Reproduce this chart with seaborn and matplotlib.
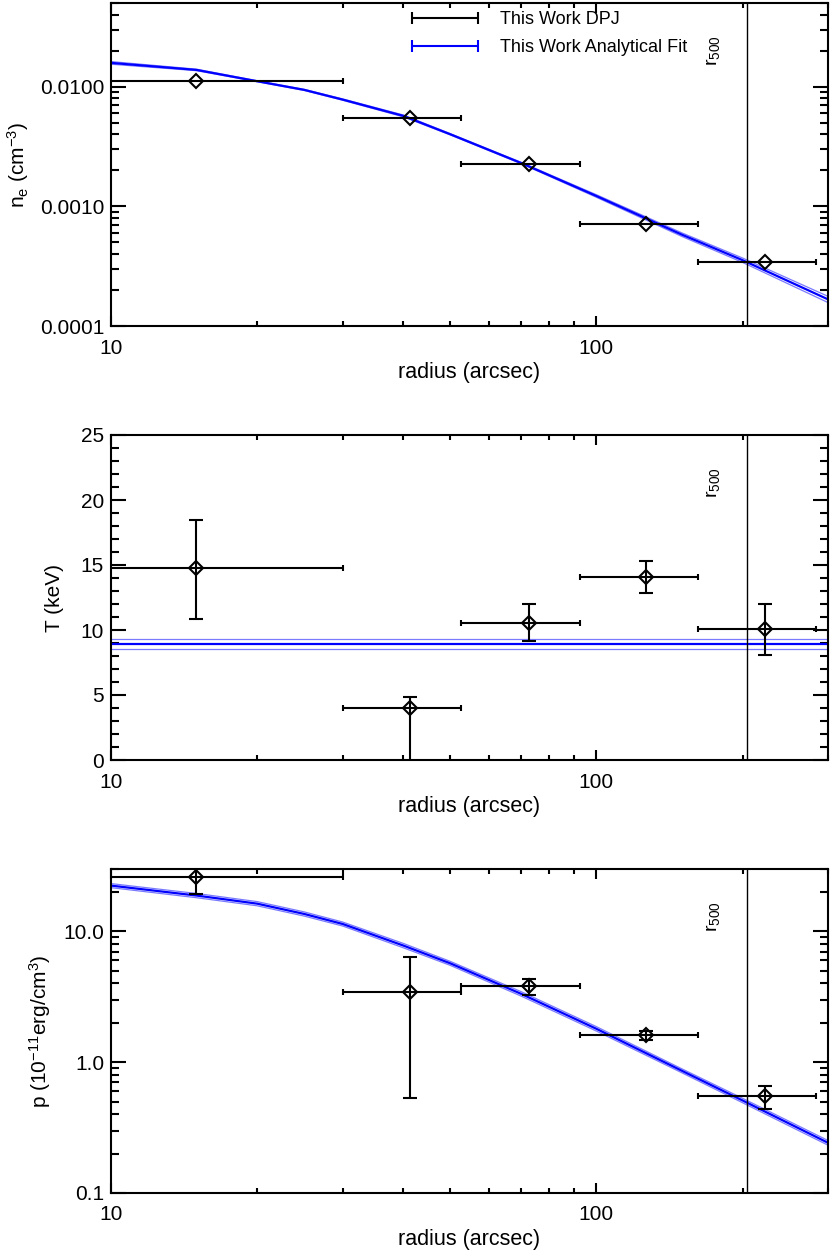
import numpy as np
import matplotlib
matplotlib.use("Agg")
import matplotlib.pyplot as plt
import seaborn as sns
from matplotlib.lines import Line2D
from matplotlib.ticker import (FixedLocator, FormatStrFormatter, MultipleLocator,
                               NullFormatter, LogLocator)

# ---- data ----
# radial bins (arcsec)
r_mid = np.array([15.0, 41.3, 72.6, 126.7, 222.8])
r_lo = np.array([0.0, 30.0, 52.7, 92.4, 161.8])
r_hi = np.array([30.0, 52.7, 92.4, 161.8, 284.0])
r500 = 204.0

# electron density (cm^-3)
ne = np.array([0.0112, 0.00552, 0.00227, 0.000718, 0.000344])

# temperature (keV)
T = np.array([14.8, 3.97, 10.56, 14.1, 10.05])
T_lo = np.array([10.82, -0.5, 9.15, 12.82, 8.08])
T_hi = np.array([18.46, 4.87, 12.0, 15.33, 12.0])

# pressure (1e-11 erg/cm^3)
p = np.array([26.0, 3.46, 3.80, 1.61, 0.55])
p_lo = np.array([19.4, 0.53, 3.29, 1.47, 0.44])
p_hi = np.array([33.0, 6.37, 4.35, 1.74, 0.656])

# analytical fit, sampled
r_fit = np.array([10, 15, 20, 25, 30, 40, 50, 70, 100, 150, 200, 300])
ne_fit = np.array([0.0158, 0.0138, 0.0111, 0.0094, 0.0078, 0.0057, 0.0040, 0.0023, 0.00122, 0.00058, 0.000355, 0.000167])
ne_fit_lo = np.array([0.0154, 0.0136, 0.0110, 0.0093, 0.0077, 0.0056, 0.00395, 0.00227, 0.00119, 0.00056, 0.00034, 0.000157])
ne_fit_hi = np.array([0.0162, 0.0140, 0.0112, 0.0095, 0.0079, 0.0058, 0.00405, 0.00233, 0.00125, 0.00060, 0.00037, 0.000177])
T_fit, T_fit_lo, T_fit_hi = 8.90, 8.54, 9.28
p_fit = np.array([22.4, 18.8, 16.3, 13.6, 11.4, 7.8, 5.7, 3.33, 1.80, 0.86, 0.51, 0.242])
p_fit_lo = np.array([21.6, 18.1, 15.7, 13.1, 11.0, 7.5, 5.5, 3.2, 1.73, 0.83, 0.49, 0.232])
p_fit_hi = np.array([23.2, 19.5, 16.9, 14.1, 11.8, 8.1, 5.9, 3.46, 1.87, 0.89, 0.53, 0.252])

BLUE = "#0000ff"
LIGHT = "#7a7aff"

sns.set_style("ticks")
plt.rcParams.update({
    "font.family": ["Liberation Sans", "DejaVu Sans"],
    "mathtext.fontset": "custom",
    "mathtext.rm": "Liberation Sans",
    "mathtext.it": "Liberation Sans:italic",
    "mathtext.bf": "Liberation Sans:bold",
    "axes.linewidth": 1.5,
    "axes.edgecolor": "black",
    "text.color": "black",
    "axes.labelcolor": "black",
    "xtick.color": "black",
    "ytick.color": "black",
})

fig = plt.figure(figsize=(8.3, 12.52), dpi=100)
W = 830.0
H = 1252.0
left, width = 111 / W, 717 / W
panels = [(3, 326), (435, 760), (869, 1193)]
axes = [fig.add_axes([left, 1 - b / H, width, (b - t) / H]) for t, b in panels]


def style_axis(ax):
    ax.set_xscale("log")
    ax.set_xlim(10, 300)
    ax.xaxis.set_major_locator(FixedLocator([10, 100]))
    ax.xaxis.set_major_formatter(FormatStrFormatter("%d"))
    ax.xaxis.set_minor_locator(LogLocator(base=10, subs=np.arange(2, 10)))
    ax.xaxis.set_minor_formatter(NullFormatter())
    ax.tick_params(which="both", direction="in", top=True, right=True, width=1.5,
                   labelsize=15)
    ax.tick_params(axis="x", which="major", length=7, pad=9)
    ax.tick_params(axis="x", which="minor", length=3.5)
    ax.tick_params(axis="y", which="major", length=10.5, pad=5)
    ax.tick_params(axis="y", which="minor", length=5.5)
    ax.set_xlabel("radius (arcsec)", fontsize=15.5, labelpad=3)
    ax.axvline(r500, color="k", lw=1.0)
    ax.text(0.84, 0.805, r"r$_{500}$", rotation=90, ha="center", va="bottom",
            fontsize=14, transform=ax.transAxes)


def draw_points(ax, y, ylo=None, yhi=None):
    ax.errorbar(r_mid, y, xerr=[r_mid - r_lo, r_hi - r_mid], fmt="none", ecolor="k",
                elinewidth=1.5, capsize=2.3, capthick=1.5, zorder=3)
    if ylo is not None:
        ax.errorbar(r_mid, y, yerr=[y - ylo, yhi - y], fmt="none", ecolor="k",
                    elinewidth=1.5, capsize=4.7, capthick=1.5, zorder=3)
    ax.plot(r_mid, y, "D", mfc="none", mec="k", ms=6.8, mew=1.5, zorder=4)


def draw_fit(ax, y, ylo, yhi):
    sns.lineplot(x=r_fit, y=ylo, ax=ax, color=LIGHT, lw=0.9, legend=False)
    sns.lineplot(x=r_fit, y=yhi, ax=ax, color=LIGHT, lw=0.9, legend=False)
    sns.lineplot(x=r_fit, y=y, ax=ax, color=BLUE, lw=1.6, legend=False)


# ---- density ----
ax = axes[0]
draw_fit(ax, ne_fit, ne_fit_lo, ne_fit_hi)
draw_points(ax, ne)
style_axis(ax)
ax.set_yscale("log")
ax.set_ylim(1e-4, 0.05)
ax.yaxis.set_major_locator(FixedLocator([1e-4, 1e-3, 1e-2]))
ax.yaxis.set_major_formatter(FormatStrFormatter("%.4f"))
ax.yaxis.set_minor_locator(LogLocator(base=10, subs=np.arange(2, 10)))
ax.yaxis.set_minor_formatter(NullFormatter())
ax.set_ylabel(r"n$_\mathrm{e}$ (cm$^{-3}$)", fontsize=15, labelpad=6)
handles = [Line2D([], [], color="k", lw=1.5, marker="|", ms=9, mew=1.5),
           Line2D([], [], color=BLUE, lw=1.5, marker="|", ms=9, mew=1.5)]
ax.legend(handles, ["This Work DPJ", "This Work Analytical Fit"], loc="upper left",
          bbox_to_anchor=(0.412, 0.975), frameon=False, fontsize=13, numpoints=2,
          handlelength=4.27, handletextpad=0.92, labelspacing=0.62, borderpad=0,
          borderaxespad=0)

# ---- temperature ----
ax = axes[1]
draw_fit(ax, np.full(len(r_fit), T_fit), np.full(len(r_fit), T_fit_lo),
         np.full(len(r_fit), T_fit_hi))
draw_points(ax, T, T_lo, T_hi)
style_axis(ax)
ax.set_ylim(0, 25)
ax.yaxis.set_major_locator(MultipleLocator(5))
ax.yaxis.set_minor_locator(MultipleLocator(1))
ax.set_ylabel("T (keV)", fontsize=15, labelpad=12)

# ---- pressure ----
ax = axes[2]
draw_fit(ax, p_fit, p_fit_lo, p_fit_hi)
draw_points(ax, p, p_lo, p_hi)
style_axis(ax)
ax.set_yscale("log")
ax.set_ylim(0.1, 30)
ax.yaxis.set_major_locator(FixedLocator([0.1, 1, 10]))
ax.yaxis.set_major_formatter(FormatStrFormatter("%.1f"))
ax.yaxis.set_minor_locator(LogLocator(base=10, subs=np.arange(2, 10)))
ax.yaxis.set_minor_formatter(NullFormatter())
ax.set_ylabel(r"p (10$^{-11}$erg/cm$^{3}$)", fontsize=15, labelpad=7)

fig.savefig("out.png", dpi=100)
